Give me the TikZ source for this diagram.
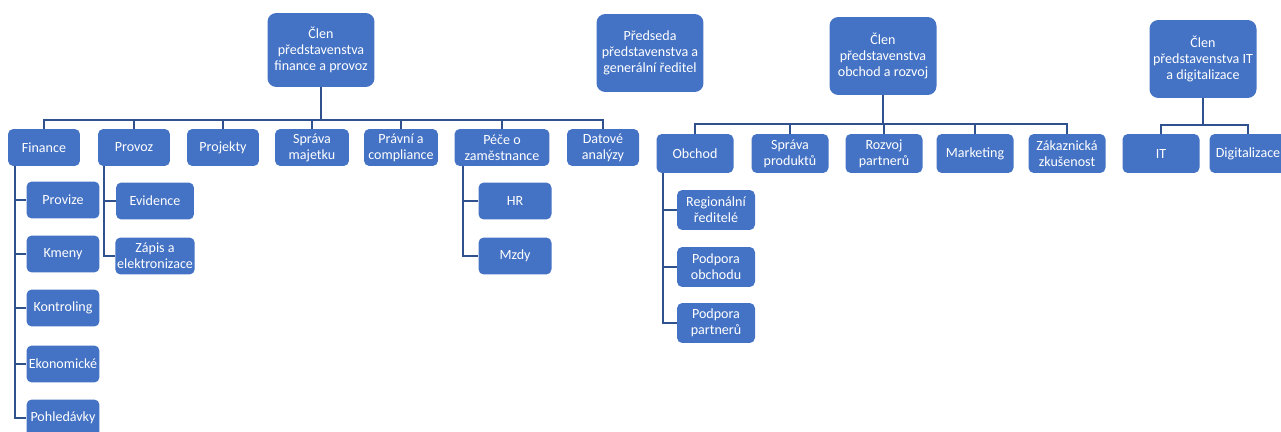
\documentclass[tikz,border=0pt]{standalone}
\usepackage{fontspec}
\setmainfont{Carlito}
\definecolor{orgblue}{RGB}{68,114,196}
\definecolor{orgline}{RGB}{47,82,143}
\tikzset{
  box/.style={fill=orgblue,text=white,rounded corners=3pt,align=center,inner sep=1pt,
    minimum width=1.46cm,minimum height=0.74cm,font=\fontsize{8}{9}\selectfont},
  head/.style={box,rounded corners=5pt,minimum width=2.14cm,minimum height=1.56cm},
  link/.style={draw=orgline,line width=1.1pt}
}

\begin{document}
\begin{tikzpicture}[x=0.02cm,y=-0.02cm]
\useasboundingbox (0,0) rectangle (1281,432);

% board
\node[head,minimum height=1.48cm] (T1) at (321,50) {Člen\\představenstva\\finance a provoz};
\node[head] (T2) at (650,53) {Předseda\\představenstva a\\generální ředitel};
\node[head] (T3) at (883,56) {Člen\\představenstva\\obchod a rozvoj};
\node[head] (T4) at (1203,59) {Člen\\představenstva IT\\a digitalizace};

% finance a provoz
\foreach \x/\w/\t [count=\n] in
  {44/1.44/Finance,134/1.44/Provoz,223/1.44/Projekty,312/1.48/{Správa\\majetku},
   401/1.48/{Právní a\\compliance},502/1.9/{Péče o\\zaměstnance},603/1.44/{Datové\\analýzy}}
  {\node[box,minimum width=\w cm] (F\n) at (\x,147.5) {\t};
   \draw[link] (T1.south) -- ++(0,33) -| (F\n.north);}

\foreach \y/\t [count=\n] in {200/Provize,254/Kmeny,308/Kontroling,364/Ekonomické,418/Pohledávky}
  {\node[box] (FA\n) at (63,\y) {\t};
   \draw[link] ([xshift=0.14cm]F1.south west) |- (FA\n.west);}

\foreach \y/\t [count=\n] in {201/Evidence,256/{Zápis a\\elektronizace}}
  {\node[box,minimum width=1.56cm] (PA\n) at (155,\y) {\t};
   \draw[link] ([xshift=0.12cm]F2.south west) |- (PA\n.west);}

\foreach \y/\t [count=\n] in {201/HR,256/Mzdy}
  {\node[box] (PE\n) at (515,\y) {\t};
   \draw[link] ([xshift=0.18cm]F6.south west) |- (PE\n.west);}

% obchod a rozvoj
\foreach \x/\t [count=\n] in
  {695/Obchod,790/{Správa\\produktů},884/{Rozvoj\\partnerů},975/Marketing,1067/{Zákaznická\\zkušenost}}
  {\node[box,minimum width=1.54cm,minimum height=0.78cm] (O\n) at (\x,153.5) {\t};
   \draw[link] (T3.south) -- ++(0,29) -| (O\n.north);}

\foreach \y/\t [count=\n] in {210/{Regionální\\ředitelé},267/{Podpora\\obchodu},323/{Podpora\\partnerů}}
  {\node[box,minimum width=1.56cm,minimum height=0.8cm] (OA\n) at (716,\y) {\t};
   \draw[link] ([xshift=0.14cm]O1.south west) |- (OA\n.west);}

% IT a digitalizace
\foreach \x/\t [count=\n] in {1161/IT,1248/Digitalizace}
  {\node[box,minimum width=1.54cm,minimum height=0.78cm] (I\n) at (\x,153.5) {\t};
   \draw[link] (T4.south) -- ++(0,27) -| (I\n.north);}
\end{tikzpicture}
\end{document}
